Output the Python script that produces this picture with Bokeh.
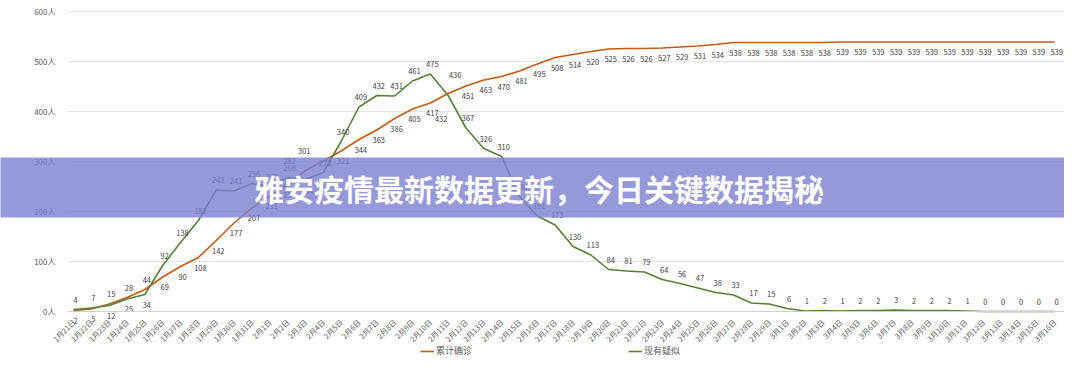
import math
from bokeh.plotting import figure
from bokeh.models import (ColumnDataSource, Range1d, FixedTicker, Legend, LegendItem, Label)
from bokeh.core.properties import value
from bokeh.embed import file_html
from bokeh.resources import INLINE

# ---------------- data ----------------
dates = ([f"1月{d}日" for d in range(21, 32)] +
         [f"2月{d}日" for d in range(1, 30)] +
         [f"3月{d}日" for d in range(1, 17)])

confirmed = [2, 5, 15, 28, 44, 69, 90, 108, 142, 177, 207,
             231, 254, 282, 301, 321, 344, 363, 386, 405, 417, 436, 451, 463, 470,
             481, 495, 508, 514, 520, 525, 526, 526, 527, 529, 531, 534, 538, 538, 538,
             538, 538, 538, 539, 539, 539, 539, 539, 539, 539, 539, 539, 539, 539, 539, 539]

suspected = [4, 7, 12, 25, 34, 92, 138, 182, 243, 241, 256,
             250, 268, 264, 278, 340, 409, 432, 431, 461, 475, 432, 367, 326, 310,
             230, 191, 173, 130, 113, 84, 81, 79, 64, 56, 47, 38, 33, 17, 15,
             6, 1, 2, 1, 2, 2, 3, 2, 2, 2, 1, 0, 0, 0, 0, 0]

series_names = ["累计确诊", "现有疑似"]
y_ticks = [0, 100, 200, 300, 400, 500, 600]
y_tick_labels = ["0人", "100人", "200人", "300人", "400人", "500人", "600人"]
banner_text = "雅安疫情最新数据更新，今日关键数据揭秘"

# ---------------- style ----------------
FONT = "Noto Sans CJK SC"
C_CONF = "#C55A11"
C_SUSP = "#548235"
LABEL_GAP = 10
# hand-placed data labels (index -> (dx, dy) in pixels), as in the original chart
conf_nudge = {13: (-16, -10), 14: (-19, -10), 21: (7, -19)}
susp_nudge = {13: (2, 11), 21: (-7, 23)}

idx = list(range(len(dates)))
X0, X1 = -0.336, 55.9          # extent of the plotting area (category units)

conf_dx, conf_dy, susp_dx, susp_dy = [], [], [], []
for i, (c, s) in enumerate(zip(confirmed, suspected)):
    if c < 50 and s < 50 and c > s:
        cd, sd = -LABEL_GAP, LABEL_GAP
    else:
        cd, sd = LABEL_GAP, -LABEL_GAP
    cx, cy = conf_nudge.get(i, (2, cd))
    sx, sy = susp_nudge.get(i, (2, sd))
    conf_dx.append(cx); conf_dy.append(cy)
    susp_dx.append(sx); susp_dy.append(sy)

src = ColumnDataSource(dict(
    x=idx, conf=confirmed, susp=suspected,
    conf_txt=[str(v) for v in confirmed], susp_txt=[str(v) for v in suspected],
    conf_dx=conf_dx, conf_dy=conf_dy, susp_dx=susp_dx, susp_dy=susp_dy))

# frame covers the whole canvas; axes are pinned inside it
p = figure(width=1064, height=358,
           x_range=Range1d(-4.092, 55.55), y_range=Range1d(-94, 622),
           output_backend="svg", toolbar_location=None,
           min_border_left=0, min_border_right=0, min_border_top=0, min_border_bottom=0)
p.outline_line_color = None
p.background_fill_color = "white"
p.border_fill_color = "white"

p.xgrid.grid_line_color = None
p.ygrid.ticker = FixedTicker(ticks=y_ticks)
p.ygrid.grid_line_color = "#e3e3e3"
p.ygrid.grid_line_width = 1
try:
    p.ygrid.cross_bounds = (X0, X1)
except Exception:
    pass

ya = p.yaxis[0]
ya.fixed_location = X0
ya.bounds = (0, 600)
ya.ticker = FixedTicker(ticks=y_ticks)
ya.major_label_overrides = dict(zip(y_ticks, y_tick_labels))
ya.axis_line_color = None
ya.major_tick_line_color = None
ya.minor_tick_line_color = None
ya.major_label_text_font = FONT
ya.major_label_text_font_size = "8px"
ya.major_label_text_color = "#595959"
ya.major_label_standoff = 6

xa = p.xaxis[0]
xa.fixed_location = 0
xa.bounds = (X0, X1)
xa.ticker = FixedTicker(ticks=idx)
xa.major_label_overrides = {i: d for i, d in zip(idx, dates)}
xa.major_label_orientation = math.pi / 4
xa.axis_line_color = "#d0d0d0"
xa.major_tick_line_color = None
xa.minor_tick_line_color = None
xa.major_label_text_font = FONT
xa.major_label_text_font_size = "7.5px"
xa.major_label_text_color = "#595959"
xa.major_label_standoff = 3

r1 = p.line("x", "conf", source=src, line_color=C_CONF, line_width=1.6)
r2 = p.line("x", "susp", source=src, line_color=C_SUSP, line_width=1.6)

p.text("x", "conf", text="conf_txt", source=src, x_offset="conf_dx", y_offset="conf_dy",
       text_font=value(FONT), text_font_size="7.5px", text_color="#404040",
       text_align="center", text_baseline="middle")
p.text("x", "susp", text="susp_txt", source=src, x_offset="susp_dx", y_offset="susp_dy",
       text_font=value(FONT), text_font_size="7.5px", text_color="#404040",
       text_align="center", text_baseline="middle")

legend = Legend(items=[LegendItem(label=series_names[0], renderers=[r1]),
                       LegendItem(label=series_names[1], renderers=[r2])],
                orientation="horizontal", location=(420, 1), spacing=156,
                label_text_font=FONT, label_text_font_size="9px", label_text_color="#595959",
                glyph_width=14, glyph_height=10, label_height=10, label_standoff=2,
                border_line_color=None, background_fill_alpha=0, padding=0, margin=0)
p.add_layout(legend)

banner = Label(x=26.09, y=248, text=banner_text, text_font=FONT, text_font_size="30px",
               text_font_style="bold", text_color="white", text_align="center",
               text_baseline="middle",
               background_fill_color="#7B7ECF", background_fill_alpha=0.8,
               padding=dict(left=260, right=260, top=8, bottom=8))
p.add_layout(banner)

open("out.html", "w").write(file_html(p, INLINE))
